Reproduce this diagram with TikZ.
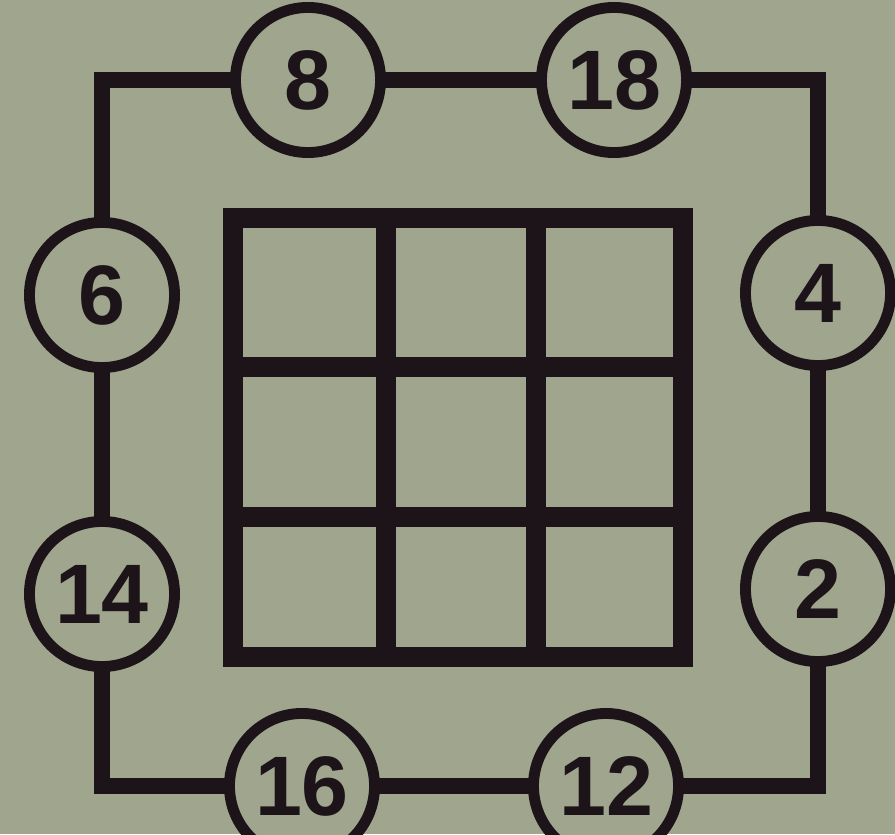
\documentclass[tikz,border=0pt]{standalone}
\usepackage{fontspec}
\setmainfont{Liberation Sans}
\usepackage{tikz}
\usetikzlibrary{positioning}

\definecolor{paper}{RGB}{160,165,142}
\definecolor{ink}{RGB}{28,20,24}
\tikzset{
  num/.style={circle, draw=ink, line width=3.1pt, fill=paper, minimum size=1.45cm,
    inner sep=0pt, outer sep=0pt, text=ink, font=\fontsize{24}{24}\selectfont\bfseries},
  wire/.style={draw=ink, line width=4.8pt},
  cell/.style={draw=ink, line width=5.6pt}
}

\begin{document}
\begin{tikzpicture}[x=0.01cm, y=-0.01cm]
\fill[paper] (0,0) rectangle (895,834);
\useasboundingbox (0,0) rectangle (895,834);
% 3x3 grid
\draw[cell] (233,218) rectangle (683,657);
\foreach \x in {386,536} \draw[cell] (\x,218) -- (\x,657);
\foreach \y in {367,517} \draw[cell] (233,\y) -- (683,\y);
% numbers round the loop
\node[num] (n8)  at (308,80)  {8};
\node[num] (n18) at (614,80)  {18};
\node[num] (n6)  at (102,295) {6};
\node[num] (n4)  at (818,293) {4};
\node[num] (n14) at (102,594) {14};
\node[num] (n2)  at (818,589) {2};
\node[num] (n16) at (302,786) {16};
\node[num] (n12) at (606,786) {12};
% loop
\draw[wire] (n8.west) -| (n6.north);
\draw[wire] (n8) -- (n18);
\draw[wire] (n18.east) -| (n4.north);
\draw[wire] (n4) -- (n2);
\draw[wire] (n2.south) |- (n12.east);
\draw[wire] (n12) -- (n16);
\draw[wire] (n16.west) -| (n14.south);
\draw[wire] (n14) -- (n6);
\end{tikzpicture}
\end{document}
